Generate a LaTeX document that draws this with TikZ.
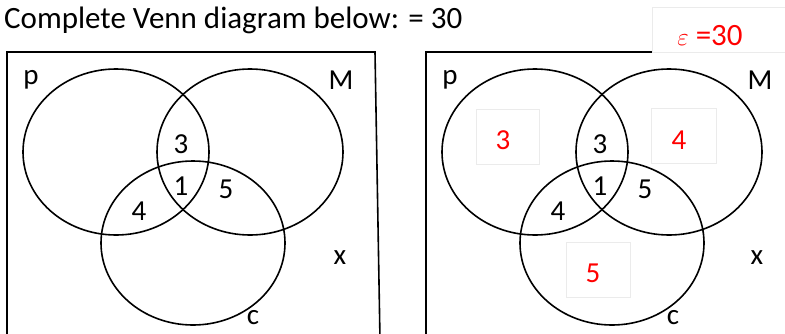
\documentclass[tikz,border=0pt]{standalone}
\usepackage{fontspec}
\setmainfont{Carlito}
\usetikzlibrary{shapes.geometric}
\tikzset{
  setc/.style={draw, ellipse, line width=1.6pt, inner sep=0pt, minimum width=186pt, minimum height=166pt},
  lbl/.style={inner sep=0pt, font=\fontsize{29}{33}\selectfont},
  ans/.style={inner sep=0pt, text=red, font=\fontsize{29}{33}\selectfont},
  ansbox/.style={draw=black!8, line width=0.6pt, fill=white, inner sep=0pt},
  frame/.style={line width=1.6pt}
}
\begin{document}
\begin{tikzpicture}[x=1pt,y=-1pt]
\useasboundingbox (0,0) rectangle (785,333);
\fill[white] (0,0) rectangle (785,333);
\node[anchor=west, inner sep=0pt, font=\fontsize{31}{35}\selectfont] (title) at (4,20) {Complete Venn diagram below: = 30};
% left panel
\draw[frame] (7,340) -- (7,52) -- (375,52) -- (380,340);
\node[setc] (P1) at (116,152) {};
\node[setc] (M1) at (250,152) {};
\node[setc, minimum height=164pt, minimum width=184pt] (C1) at (193,243) {};
\node[lbl] (p1) at (31,80) {p};
\node[lbl] (m1) at (341,80) {M};
\node[lbl] (x1) at (340,258) {x};
\node[lbl] (c1) at (253,318) {c};
\node[lbl] (a1) at (181,144) {3};
\node[lbl] (b1) at (181,186) {1};
\node[lbl] (d1) at (226,189) {5};
\node[lbl] (e1) at (139,211) {4};
% right panel
\draw[frame] (426,340) -- (426,52) -- (790,52);
\node[ansbox, minimum width=135pt, minimum height=45pt, anchor=north west] (epsbox) at (652,7) {};
\node[ans, font=\fontsize{31}{35}\selectfont] (eps) at (710,36) {$\varepsilon$ =30};
\node[ansbox, minimum width=63pt, minimum height=55pt] (bp) at (508,137) {};
\node[ansbox, minimum width=65pt, minimum height=55pt] (bm) at (684,136) {};
\node[ansbox, minimum width=64pt, minimum height=55pt] (bc) at (598,270) {};
\node[setc] (P2) at (535,152) {};
\node[setc] (M2) at (669,152) {};
\node[setc, minimum height=164pt, minimum width=184pt] (C2) at (612,243) {};
\node[lbl] (p2) at (450,80) {p};
\node[lbl] (m2) at (760,80) {M};
\node[lbl] (x2) at (757,258) {x};
\node[lbl] (c2) at (673,318) {c};
\node[lbl] (a2) at (600,144) {3};
\node[lbl] (b2) at (600,186) {1};
\node[lbl] (d2) at (645,189) {5};
\node[lbl] (e2) at (558,211) {4};
\node[ans] (r1) at (503,140) {3};
\node[ans] (r2) at (679,140) {4};
\node[ans] (r3) at (593,273) {5};
\end{tikzpicture}
\end{document}
